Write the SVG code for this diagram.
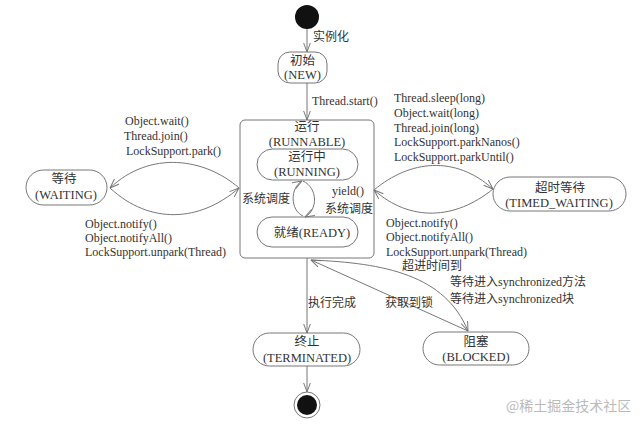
<svg xmlns="http://www.w3.org/2000/svg" width="640" height="427" viewBox="0 0 640 427">
<style>
text{font-family:"Liberation Serif","Noto Sans CJK SC",serif;font-size:12px;fill:#333}
.n{font-size:12.5px}
.c{text-anchor:middle}
.box{fill:#fff;stroke:#777;stroke-width:1}
.e{fill:none;stroke:#777;stroke-width:1}
.wm{font-family:"Noto Sans CJK SC","Liberation Sans",sans-serif;font-size:14px;fill:#bbb}
</style>
<defs>
<marker id="a" viewBox="0 0 10 8" refX="9.5" refY="4" markerWidth="10" markerHeight="8" markerUnits="userSpaceOnUse" orient="auto">
<path d="M0,0.5 L9.5,4 L0,7.5" fill="none" stroke="#777" stroke-width="1"/>
</marker>
</defs>
<rect width="640" height="427" fill="#fff"/>
<g id="start"><circle cx="307" cy="17" r="12" fill="#111"/></g>
<g id="new"><rect class="box" x="278" y="52" width="49" height="31" rx="12"/><text class="n c" x="302.5" y="65">初始</text><text class="n c" x="302.5" y="79">(NEW)</text></g>
<g id="runnable"><rect class="box" x="240" y="120" width="134" height="138" rx="5"/><text class="n c" x="307" y="131">运行</text><text class="n c" x="307" y="146">(RUNNABLE)</text></g>
<g id="running"><rect class="box" x="257" y="149" width="101" height="31" rx="15.5"/><text class="n c" x="307" y="161">运行中</text><text class="n c" x="307" y="176">(RUNNING)</text></g>
<g id="ready"><rect class="box" x="257" y="217" width="101" height="30" rx="15"/><text class="n c" x="312" y="237">就绪(READY)</text></g>
<g id="waiting"><rect class="box" x="26" y="170" width="81" height="35" rx="17.5"/><text class="n c" x="64" y="183">等待</text><text class="n c" x="66" y="199">(WAITING)</text></g>
<g id="timed"><rect class="box" x="493" y="177" width="133" height="34" rx="17"/><text class="n c" x="560" y="192">超时等待</text><text class="n c" x="559" y="207">(TIMED_WAITING)</text></g>
<g id="terminated"><rect class="box" x="253" y="333" width="107" height="33" rx="16.5"/><text class="n c" x="307" y="346">终止</text><text class="n c" x="307" y="362">(TERMINATED)</text></g>
<g id="blocked"><rect class="box" x="423" y="332" width="106" height="33" rx="16.5"/><text class="n c" x="476" y="346">阻塞</text><text class="n c" x="476" y="361">(BLOCKED)</text></g>
<g id="end"><circle cx="307" cy="405" r="13" fill="#fff" stroke="#777"/><circle cx="307" cy="405" r="10" fill="#111"/></g>
<g id="connectors">
<path class="e" d="M307,29 L307,52" marker-end="url(#a)"/>
<path class="e" d="M307,83 L307,120" marker-end="url(#a)"/>
<path class="e" d="M303,216 C290,210 290,188 302,181" marker-end="url(#a)"/>
<path class="e" d="M303,181 C318,188 318,210 305,217" marker-end="url(#a)"/>
<path class="e" d="M239,188 C205,158 150,150 110,188" marker-end="url(#a)"/>
<path class="e" d="M110,188 C150,225 200,222 239,188" marker-end="url(#a)"/>
<path class="e" d="M374,190 C410,160 455,155 493,189" marker-end="url(#a)"/>
<path class="e" d="M493,189 C455,220 410,222 374,190" marker-end="url(#a)"/>
<path class="e" d="M307,258 L307,333" marker-end="url(#a)"/>
<path class="e" d="M307,366 L307,392" marker-end="url(#a)"/>
<path class="e" d="M311,260 C385,263 445,275 468,331" marker-end="url(#a)"/>
<path class="e" d="M468,331 L311,260" marker-end="url(#a)"/>
</g>
<g id="labels">
<text x="313" y="41">实例化</text>
<text x="312" y="105">Thread.start()</text>
<text x="125" y="125">Object.wait()</text>
<text x="124" y="140">Thread.join()</text>
<text x="126" y="155">LockSupport.park()</text>
<text x="85" y="228">Object.notify()</text>
<text x="85" y="242">Object.notifyAll()</text>
<text x="85" y="256">LockSupport.unpark(Thread)</text>
<text x="394" y="102">Thread.sleep(long)</text>
<text x="394" y="117">Object.wait(long)</text>
<text x="394" y="132">Thread.join(long)</text>
<text x="394" y="146">LockSupport.parkNanos()</text>
<text x="394" y="161">LockSupport.parkUntil()</text>
<text x="386" y="227">Object.notify()</text>
<text x="386" y="241">Object.notifyAll()</text>
<text x="386" y="256">LockSupport.unpark(Thread)</text>
<text x="402" y="270">超进时间到</text>
<text x="242" y="203">系统调度</text>
<text x="332" y="195">yield()</text>
<text x="325" y="213">系统调度</text>
<text x="308" y="307">执行完成</text>
<text x="385" y="307">获取到锁</text>
<text x="450" y="286">等待进入synchronized方法</text>
<text x="450" y="303">等待进入synchronized块</text>
<text class="wm" x="506" y="411">@稀土掘金技术社区</text>
</g>
</svg>
